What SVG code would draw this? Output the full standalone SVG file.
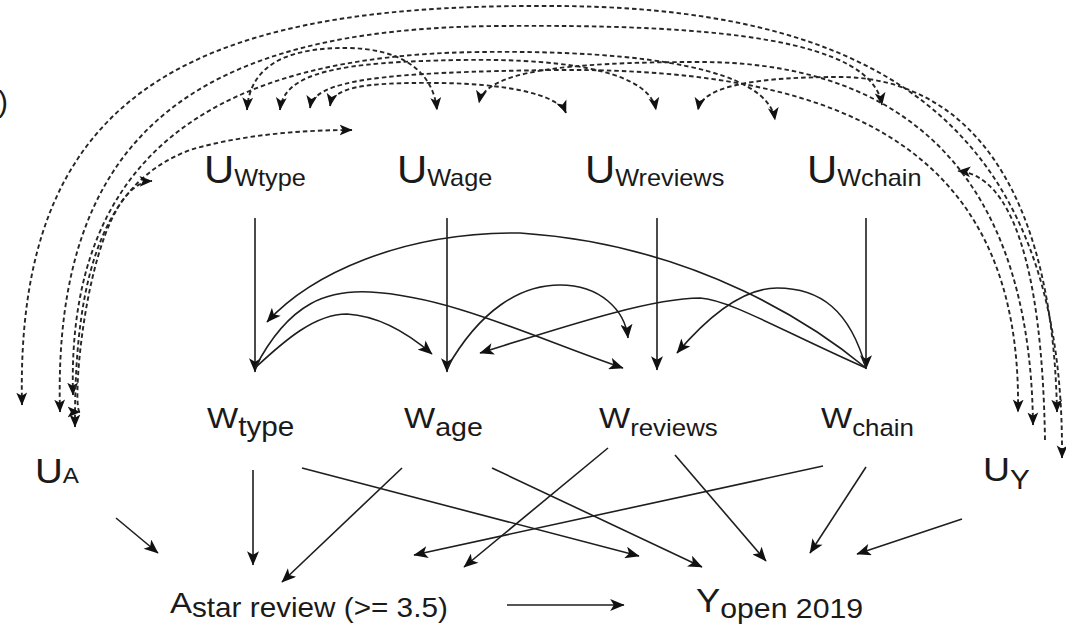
<svg xmlns="http://www.w3.org/2000/svg" width="1066" height="629" viewBox="0 0 1066 629">
<style>
text{font-family:"Liberation Sans",Arial,Helvetica,sans-serif;fill:#1a1a1a}
.s{fill:none;stroke:#1e1e1e;stroke-width:1.6}
.d{fill:none;stroke:#262626;stroke-width:1.9;stroke-dasharray:4.5 3}
</style>
<defs>
<marker id="ah" viewBox="0 0 12 10" refX="11.5" refY="5" markerWidth="15" markerHeight="12" markerUnits="userSpaceOnUse" orient="auto-start-reverse">
<path d="M0,0 L12,5 L0,10 L3,5 z" fill="#111"/>
</marker>
<marker id="dh" viewBox="0 0 12 10" refX="11.5" refY="5" markerWidth="13" markerHeight="12" markerUnits="userSpaceOnUse" orient="auto-start-reverse">
<path d="M0,0 L12,5 L0,10 L3,5 z" fill="#111"/>
</marker>
</defs>
<rect width="1066" height="629" fill="#fff"/>

<g id="connectors">
<path class="s" d="M255,218 L255,372" marker-end="url(#ah)"/>
<path class="s" d="M447,218 L447,372" marker-end="url(#ah)"/>
<path class="s" d="M657,218 L657,370" marker-end="url(#ah)"/>
<path class="s" d="M866,218 L866,369" marker-end="url(#ah)"/>
<path class="s" d="M866,368 C820,330 700,245 520,233 C400,232 310,275 267,322" marker-end="url(#ah)"/>
<path class="s" d="M255,368 C290,300 330,290 370,292 C450,296 540,340 623,368" marker-end="url(#ah)"/>
<path class="s" d="M255,368 C285,340 315,314 347,314 C380,316 410,335 432,354" marker-end="url(#ah)"/>
<path class="s" d="M447,368 C480,310 520,285 560,285 C600,285 625,310 628,338" marker-end="url(#ah)"/>
<path class="s" d="M866,368 C780,330 730,300 700,298 C650,298 560,328 480,353" marker-end="url(#ah)"/>
<path class="s" d="M866,368 C850,310 820,288 777,288 C740,288 705,320 677,353" marker-end="url(#ah)"/>
<path class="s" d="M253,470 L253,565" marker-end="url(#ah)"/>
<path class="s" d="M302,468 L639,556" marker-end="url(#ah)"/>
<path class="s" d="M402,468 L282,582" marker-end="url(#ah)"/>
<path class="s" d="M492,468 L702,567" marker-end="url(#ah)"/>
<path class="s" d="M608,448 L464,567" marker-end="url(#ah)"/>
<path class="s" d="M675,455 L766,561" marker-end="url(#ah)"/>
<path class="s" d="M823,466 L414,555" marker-end="url(#ah)"/>
<path class="s" d="M866,467 L810,553" marker-end="url(#ah)"/>
<path class="s" d="M962,519 L857,554" marker-end="url(#ah)"/>
<path class="s" d="M116,518 L158,553" marker-end="url(#ah)"/>
<path class="s" d="M507,605 L624,605" marker-end="url(#ah)"/>
<path class="d" d="M22,405 C15,100 180,5 540,6 C860,4 1065,110 1062,458" marker-start="url(#dh)" marker-end="url(#dh)"/>
<path class="d" d="M60,412 C52,130 200,28 500,26 C720,24 872,40 882,105" marker-start="url(#dh)" marker-end="url(#dh)"/>
<path class="d" d="M73,395 C66,150 220,55 480,52 C650,50 768,70 775,120" marker-start="url(#dh)" marker-end="url(#dh)"/>
<path class="d" d="M75,427 C74,260 110,180 190,150 C240,135 300,130 352,130" marker-start="url(#dh)" marker-end="url(#dh)"/>
<path class="d" d="M80,412 C70,412 88,183 152,181" marker-start="url(#dh)" marker-end="url(#dh)"/>
<path class="d" d="M247,110 C250,58 300,48 345,48 C400,48 433,70 437,110" marker-start="url(#dh)" marker-end="url(#dh)"/>
<path class="d" d="M280,110 C284,72 340,62 460,60 C580,58 650,75 656,110" marker-start="url(#dh)" marker-end="url(#dh)"/>
<path class="d" d="M330,106 C333,88 360,82 440,83 C520,84 560,98 566,113" marker-start="url(#dh)" marker-end="url(#dh)"/>
<path class="d" d="M310,108 C314,80 380,72 560,70 C860,68 1022,160 1018,412" marker-start="url(#dh)" marker-end="url(#dh)"/>
<path class="d" d="M1033,425 C1030,150 880,62 700,62 C560,62 485,72 479,103" marker-start="url(#dh)" marker-end="url(#dh)"/>
<path class="d" d="M1057,412 C1052,150 940,77 840,77 C760,77 702,85 698,110" marker-start="url(#dh)" marker-end="url(#dh)"/>
<path class="d" d="M1045,440 C1042,260 1010,175 958,171" marker-end="url(#dh)"/>
</g>

<g id="edge-fragment"><text x="-2" y="112" font-size="30">)</text></g>

<g id="n_UWtype"><text transform="translate(204,183) scale(1.1,1)"><tspan font-size="38">U</tspan><tspan font-size="23" dy="3">Wtype</tspan></text></g>
<g id="n_UWage"><text transform="translate(397,183) scale(1.1,1)"><tspan font-size="38">U</tspan><tspan font-size="23" dy="3">Wage</tspan></text></g>
<g id="n_UWreviews"><text transform="translate(585,183) scale(1.1,1)"><tspan font-size="38">U</tspan><tspan font-size="23" dy="3">Wreviews</tspan></text></g>
<g id="n_UWchain"><text transform="translate(807,183) scale(1.1,1)"><tspan font-size="38">U</tspan><tspan font-size="23" dy="3">Wchain</tspan></text></g>

<g id="n_Wtype"><text transform="translate(207,428) scale(1.1,1)"><tspan font-size="30">W</tspan><tspan font-size="27" dy="8">type</tspan></text></g>
<g id="n_Wage"><text transform="translate(404,428) scale(1.1,1)"><tspan font-size="30">W</tspan><tspan font-size="26" dy="8">age</tspan></text></g>
<g id="n_Wreviews"><text transform="translate(599,428) scale(1.1,1)"><tspan font-size="30">W</tspan><tspan font-size="23.5" dy="8">reviews</tspan></text></g>
<g id="n_Wchain"><text transform="translate(821,428) scale(1.1,1)"><tspan font-size="30">W</tspan><tspan font-size="23.5" dy="8">chain</tspan></text></g>

<g id="n_UA"><text transform="translate(35,483) scale(1.1,1)"><tspan font-size="35">U</tspan><tspan font-size="22">A</tspan></text></g>
<g id="n_UY"><text transform="translate(983,481) scale(1.1,1)"><tspan font-size="34">U</tspan><tspan font-size="27" dy="8">Y</tspan></text></g>

<g id="n_A"><text transform="translate(170,613) scale(1.1,1)"><tspan font-size="30">A</tspan><tspan font-size="27" dy="4">star review (&gt;= 3.5)</tspan></text></g>
<g id="n_Y"><text transform="translate(696,612) scale(1.1,1)"><tspan font-size="33">Y</tspan><tspan font-size="27.5" dy="6">open 2019</tspan></text></g>
</svg>
